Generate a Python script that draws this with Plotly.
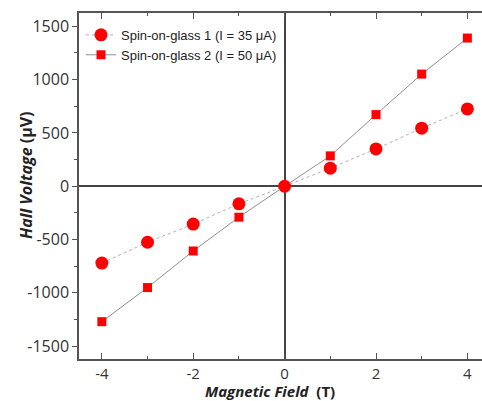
import plotly.graph_objects as go

field = [-4, -3, -2, -1, 0, 1, 2, 3, 4]
sog1 = [-720, -525, -355, -165, 0, 170, 350, 545, 725]
sog2 = [-1270, -950, -607, -290, 0, 285, 672, 1052, 1390]
name1 = "Spin-on-glass 1 (I = 35 μA)"
name2 = "Spin-on-glass 2 (I = 50 μA)"
xticks = [-4, -2, 0, 2, 4]
yticks = [-1500, -1000, -500, 0, 500, 1000, 1500]

fig = go.Figure()
fig.add_trace(go.Scatter(x=field, y=sog1, name=name1, mode="lines+markers",
                         line=dict(color="#b0b0b0", width=1, dash="dot"),
                         marker=dict(symbol="circle", size=13, color="#ff0000")))
fig.add_trace(go.Scatter(x=field, y=sog2, name=name2, mode="lines+markers",
                         line=dict(color="#909090", width=1),
                         marker=dict(symbol="square", size=9, color="#ff0000")))

L, T, B = 79, 13, 42
PW = 482 - L
PH = 401 - T - B

fig.update_layout(
    width=482, height=401,
    margin=dict(l=L, r=0, t=T, b=B),
    paper_bgcolor="white", plot_bgcolor="white",
    showlegend=True,
    legend=dict(x=0.005, y=0.98, xanchor="left", yanchor="top",
                bgcolor="rgba(0,0,0,0)", font=dict(family="Liberation Sans, Arial", size=13, color="#222"),
                tracegroupgap=0, itemwidth=30),
    annotations=[
        dict(text="<b><i>Hall Voltage</i> (μV)</b>", textangle=-90,
             xref="paper", yref="paper", x=(26 - L) / PW, y=(PH - (175 - T)) / PH,
             xanchor="center", yanchor="middle", showarrow=False,
             font=dict(family="Open Sans", size=16, color="#222")),
        dict(text="<b><i>Magnetic Field</i>  (T)</b>",
             xref="paper", yref="paper", x=(270 - L) / PW, y=-(391 - (401 - B)) / PH,
             xanchor="center", yanchor="middle", showarrow=False,
             font=dict(family="Open Sans", size=15, color="#222")),
    ],
)
fig.update_xaxes(range=[-4.5, 4.32], tickvals=xticks, ticktext=[str(v) for v in xticks],
                 ticks="inside", ticklen=6, tickwidth=1, tickcolor="#555",
                 minor=dict(dtick=1, tick0=0, ticks="inside", ticklen=3, tickcolor="#555"),
                 showline=True, linecolor="#555", linewidth=1.5, mirror="ticks",
                 showgrid=False, zeroline=True, zerolinecolor="#444", zerolinewidth=1.5,
                 tickfont=dict(family="Open Sans", size=15, color="#333"))
fig.update_yaxes(range=[-1620, 1625], tickvals=yticks, ticktext=[str(v) for v in yticks],
                 ticks="outside", ticklen=5, tickwidth=1, tickcolor="#555",
                 minor=dict(dtick=250, tick0=0, ticks="outside", ticklen=3, tickcolor="#555"),
                 showline=True, linecolor="#555", linewidth=1.5, mirror=False,
                 showgrid=False, zeroline=True, zerolinecolor="#444", zerolinewidth=1.5,
                 tickfont=dict(family="Open Sans", size=16, color="#333"))

fig.write_html("out.html")
